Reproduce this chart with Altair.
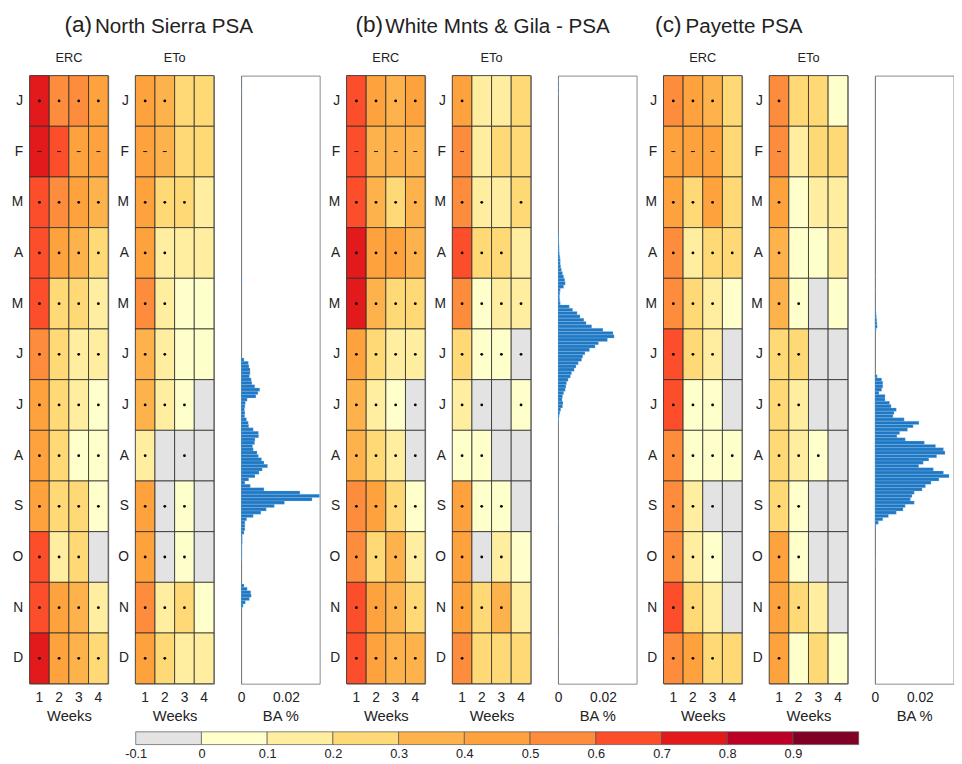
import altair as alt
import pandas as pd

FONT = "Liberation Sans"

months = ["Jan", "Feb", "Mar", "Apr", "May", "Jun", "Jul", "Aug", "Sep", "Oct", "Nov", "Dec"]
weeks = [1, 2, 3, 4]

# correlation values (rows: months, cols: weeks 1-4)
erc_a = [[0.75, 0.55, 0.55, 0.45], [0.76, 0.64, 0.44, 0.45], [0.65, 0.55, 0.45, 0.38],
         [0.65, 0.45, 0.38, 0.28], [0.66, 0.26, 0.25, 0.18], [0.56, 0.24, 0.18, 0.15],
         [0.45, 0.24, 0.16, 0.08], [0.46, 0.26, 0.07, 0.06], [0.45, 0.25, 0.24, 0.07],
         [0.64, 0.16, 0.24, -0.03], [0.65, 0.42, 0.36, 0.17], [0.74, 0.45, 0.38, 0.26]]
sig_erc_a = ["1111", "1111", "1111", "1111", "1111", "1111", "1111", "1111", "1111", "1110", "1111", "1111"]

eto_a = [[0.44, 0.36, 0.25, 0.25], [0.43, 0.35, 0.26, 0.25], [0.42, 0.26, 0.24, 0.16],
         [0.42, 0.16, 0.15, 0.14], [0.55, 0.15, 0.06, 0.05], [0.38, 0.14, 0.06, 0.05],
         [0.37, 0.14, 0.05, -0.02], [0.15, -0.02, -0.03, -0.04], [0.42, -0.03, 0.04, -0.04],
         [0.43, -0.02, 0.05, -0.03], [0.54, 0.15, 0.24, 0.06], [0.43, 0.22, 0.15, 0.14]]
sig_eto_a = ["1100", "1100", "1110", "1100", "1100", "1100", "1110", "1010", "1110", "1110", "1110", "1100"]

erc_b = [[0.65, 0.44, 0.37, 0.43], [0.65, 0.36, 0.37, 0.36], [0.64, 0.37, 0.27, 0.36],
         [0.74, 0.43, 0.41, 0.36], [0.75, 0.37, 0.27, 0.26], [0.43, 0.24, 0.16, 0.15],
         [0.36, 0.16, 0.06, -0.03], [0.36, 0.25, 0.16, -0.03], [0.55, 0.42, 0.26, 0.07],
         [0.54, 0.25, 0.37, 0.15], [0.65, 0.43, 0.37, 0.27], [0.66, 0.44, 0.37, 0.35]]
sig_erc_b = ["1111"] * 12

eto_b = [[0.44, 0.15, 0.16, 0.26], [0.55, 0.15, 0.25, 0.26], [0.54, 0.16, 0.14, 0.25],
         [0.65, 0.26, 0.25, 0.15], [0.55, 0.06, 0.15, 0.14], [0.25, 0.05, 0.06, -0.03],
         [0.15, -0.02, -0.03, 0.05], [0.06, 0.05, -0.03, -0.04], [0.43, 0.06, 0.05, -0.03],
         [0.41, -0.02, 0.15, 0.05], [0.43, 0.26, 0.37, 0.15], [0.54, 0.25, 0.26, 0.25]]
sig_eto_b = ["1000", "1000", "1101", "1110", "1111", "1111", "1101", "1100", "1110", "1110", "1110", "1000"]

erc_c = [[0.55, 0.43, 0.38, 0.26], [0.45, 0.42, 0.46, 0.26], [0.44, 0.27, 0.44, 0.25],
         [0.55, 0.16, 0.25, 0.24], [0.55, 0.25, 0.16, 0.05], [0.65, 0.25, 0.16, -0.03],
         [0.64, 0.06, 0.05, -0.03], [0.55, 0.06, 0.05, 0.06], [0.55, 0.16, -0.03, -0.04],
         [0.55, 0.15, 0.06, -0.03], [0.65, 0.25, 0.16, -0.03], [0.55, 0.43, 0.27, 0.26]]
sig_erc_c = ["1110", "1110", "1110", "1111", "1110", "1110", "1110", "1111", "1110", "1110", "1100", "1110"]

eto_c = [[0.55, 0.25, 0.26, 0.06], [0.55, 0.16, 0.25, 0.26], [0.44, 0.06, 0.15, 0.14],
         [0.37, 0.05, 0.06, 0.12], [0.38, 0.06, -0.03, 0.05], [0.26, 0.25, -0.03, -0.04],
         [0.25, 0.15, -0.03, -0.03], [0.26, 0.16, 0.06, -0.02], [0.25, 0.06, -0.03, -0.04],
         [0.44, 0.06, -0.03, -0.03], [0.43, 0.26, 0.16, -0.03], [0.43, 0.06, 0.25, 0.05]]
sig_eto_c = ["1000", "1000", "1000", "1000", "1100", "1100", "1100", "1110", "1100", "1100", "1100", "1000"]

# burned area % per 2-day bin: (first day of year, values for consecutive 2-day bins)
ba_a = [(8, [0.0003]), (122, [0.0004]),
        (170, [0.0013, 0.0032, 0.0035, 0.004, 0.004, 0.0037, 0.0045, 0.0048, 0.0061, 0.0083,
               0.0075, 0.0066, 0.0027, 0.0019, 0.0017, 0.0015, 0.0017, 0.0016, 0.0024, 0.0032,
               0.0034, 0.0054, 0.0077, 0.0078, 0.0062, 0.006, 0.0051, 0.0054, 0.0071, 0.0077,
               0.0091, 0.0102, 0.0118, 0.0094, 0.008, 0.0062, 0.0034, 0.0017, 0.0041, 0.0102,
               0.0262, 0.035, 0.0316, 0.0193, 0.0148, 0.0112, 0.0088, 0.0054, 0.0025, 0.0017,
               0.0017, 0.0017, 0.0013, 0.0005, 0.0005, 0.0005, 0.0003, 0.0003, 0.0003, 0.0003,
               0.0002]),
        (306, [0.0013, 0.0027, 0.0043, 0.0045, 0.0037, 0.0019, 0.0009, 0.0003])]
ba_b = [(2, [0.0002]), (6, [0.0002]), (10, [0.0002]),
        (96, [0.0003, 0.0003, 0.0004, 0.0005, 0.0005, 0.0006, 0.0008, 0.001, 0.001, 0.0012,
              0.0015, 0.002, 0.0025, 0.003, 0.0032, 0.0025, 0.001, 0.0008, 0.0007, 0.0008,
              0.001, 0.005, 0.0065, 0.0085, 0.0098, 0.0115, 0.0125, 0.015, 0.02, 0.0245,
              0.025, 0.022, 0.018, 0.0165, 0.014, 0.012, 0.011, 0.0105, 0.009, 0.008,
              0.0072, 0.006, 0.0055, 0.0045, 0.0038, 0.0035, 0.0032, 0.0025, 0.002, 0.0018,
              0.0022, 0.002, 0.0012, 0.0008, 0.0005, 0.0002]),
        (268, [0.0003]), (338, [0.0003])]
ba_c = [(88, [0.0003]), (120, [0.0002]), (128, [0.0002]),
        (142, [0.0005, 0.0006, 0.0008, 0.0009, 0.001, 0.0005]),
        (180, [0.001, 0.003, 0.0035, 0.0035, 0.003, 0.0018, 0.0045, 0.0045, 0.0065, 0.0072,
               0.0095, 0.0085, 0.008, 0.013, 0.0196, 0.017, 0.0145, 0.011, 0.0098, 0.0135,
               0.022, 0.027, 0.0305, 0.0312, 0.0275, 0.024, 0.0215, 0.0195, 0.026, 0.0305,
               0.033, 0.0285, 0.025, 0.0225, 0.021, 0.0175, 0.0165, 0.0158, 0.0175, 0.0135,
               0.0125, 0.0095, 0.006, 0.0035, 0.0015, 0.0004]),
        (290, [0.0003]), (294, [0.0003])]

# colour bar
bin_edges = [-0.1, 0.0, 0.1, 0.2, 0.3, 0.4, 0.5, 0.6, 0.7, 0.8, 0.9, 1.0]
thresholds = [0.0, 0.1, 0.2, 0.3, 0.4, 0.5, 0.6, 0.7, 0.8, 0.9]
colors = ["#e3e3e3", "#ffffcc", "#ffeda0", "#fed976", "#feb24c", "#fda23d",
          "#fd8d3c", "#fc4e2a", "#e31a1c", "#bd0026", "#800026"]
cbar_ticks = [-0.1, 0.0, 0.1, 0.2, 0.3, 0.4, 0.5, 0.6, 0.7, 0.8, 0.9]

titles = [("(a)", "North Sierra PSA"), ("(b)", "White Mnts & Gila - PSA"), ("(c)", "Payette PSA")]

# layout constants
PW, PH = 80, 619
E = 20              # y-axis extent
GAP = 25.625        # gap between plot areas
S = GAP - E
ROW_W = 9 * PW + 8 * GAP          # width from first plot's left to last plot's right
CB_LEFT, CB_W = 108, 736          # colour bar offset (from first plot) and length
INK = "#222222"

color_scale = alt.Scale(type="threshold", domain=thresholds, range=colors)


def heat(mat, sig, label):
    rows = []
    for mi, m in enumerate(months):
        for wi, w in enumerate(weeks):
            rows.append({"month": m, "week": w, "corr": mat[mi][wi], "sig": int(sig[mi][wi])})
    df = pd.DataFrame(rows)
    base = alt.Chart(df)
    x = alt.X("week:O", title="Weeks",
              axis=alt.Axis(labelAngle=0, ticks=False, tickSize=0, domain=False, labelPadding=7,
                            labelFontSize=14, titleFontSize=15, titlePadding=5,
                            titleFontWeight="normal"))
    y = alt.Y("month:O", sort=months, title=None,
              axis=alt.Axis(labelExpr="substring(datum.label, 0, 1)", ticks=False, tickSize=0,
                            domain=False, labelPadding=7, labelFontSize=14,
                            minExtent=E, maxExtent=E))
    rect = base.mark_rect(stroke="#2b2b2b", strokeWidth=0.8).encode(
        x=x, y=y, color=alt.Color("corr:Q", scale=color_scale, legend=None))
    dots = base.transform_filter("datum.sig == 1 && datum.month != 'Feb'").mark_point(
        shape="circle", size=8, filled=True, color="black", opacity=1).encode(
        x=alt.X("week:O"), y=alt.Y("month:O", sort=months))
    dashes = base.transform_filter("datum.sig == 1 && datum.month == 'Feb'").mark_point(
        shape="M-1,-0.22L1,-0.22L1,0.22L-1,0.22Z", size=16, filled=True, color="black",
        opacity=1).encode(x=alt.X("week:O"), y=alt.Y("month:O", sort=months))
    return alt.layer(rect, dots, dashes).properties(
        width=PW, height=PH,
        title=alt.TitleParams(label, fontSize=13, fontWeight="normal", offset=10))


def ba(segments):
    rows = []
    for d0, vals in segments:
        for i, v in enumerate(vals):
            rows.append({"d0": d0 + 2 * i, "d1": d0 + 2 * i + 2, "pct": v, "zero": 0.0})
    df = pd.DataFrame(rows)
    return alt.Chart(df).mark_rect(fill="#1f78c4", stroke="#9cc6ec", strokeWidth=0.3,
                                   clip=True).encode(
        x=alt.X("zero:Q", scale=alt.Scale(domain=[0, 0.035], nice=False),
                axis=alt.Axis(values=[0, 0.02], format=".2~f", title="BA %", ticks=False,
                              tickSize=0, domain=False, labelPadding=7, labelFontSize=14,
                              labelFlush=False, titleFontSize=15, titlePadding=5,
                              titleFontWeight="normal")),
        x2="pct:Q",
        y=alt.Y("d0:Q", scale=alt.Scale(domain=[0, 366], reverse=True, nice=False),
                axis=alt.Axis(labels=False, ticks=False, tickSize=0, domain=True,
                              domainColor="#7a7a7a", title=None, minExtent=E, maxExtent=E)),
        y2="d1:Q",
    ).properties(width=PW, height=PH)


def group(idx, erc, sig1, eto, sig2, segs, dx_tag, dx_name):
    tag, name = titles[idx]
    inner = alt.hconcat(heat(erc, sig1, "ERC"), heat(eto, sig2, "ETo"), ba(segs), spacing=S,
                        title=alt.TitleParams(name, anchor="start", dx=dx_name, fontSize=21,
                                              fontWeight="normal", offset=15))
    return alt.hconcat(inner, title=alt.TitleParams(tag, anchor="start", dx=dx_tag, dy=21,
                                                    fontSize=23, fontWeight="normal", offset=0))


row = alt.hconcat(
    group(0, erc_a, sig_erc_a, eto_a, sig_eto_a, ba_a, 56, 87),
    group(1, erc_b, sig_erc_b, eto_b, sig_eto_b, ba_b, 29.5, 60),
    group(2, erc_c, sig_erc_c, eto_c, sig_eto_c, ba_c, 12, 43),
    spacing=S)

# colour bar: its scale spans the row of panels so it lines up under them
cb_df = pd.DataFrame({"lo": bin_edges[:-1], "hi": bin_edges[1:]})
cb_df["mid"] = (cb_df["lo"] + cb_df["hi"]) / 2
px_per_unit = CB_W / (bin_edges[-1] - bin_edges[0])
cb_dom = [bin_edges[0] - CB_LEFT / px_per_unit,
          bin_edges[-1] + (ROW_W - CB_LEFT - CB_W) / px_per_unit]
colorbar = alt.Chart(cb_df).mark_rect(stroke="#555555", strokeWidth=0.7).encode(
    x=alt.X("lo:Q", scale=alt.Scale(domain=cb_dom, nice=False, zero=False),
            axis=alt.Axis(values=cbar_ticks,
                          labelExpr="replace(format(datum.value, '.1~f'), '\u2212', '-')",
                          ticks=False, tickSize=0, domain=False, labelPadding=3,
                          labelFontSize=13, labelFlush=False, title=None)),
    x2="hi:Q",
    color=alt.Color("mid:Q", scale=color_scale, legend=None),
).properties(width=ROW_W, height=13, view=alt.ViewBackground(strokeOpacity=0))

chart = alt.vconcat(row, colorbar, spacing=6).properties(
    padding={"left": 1, "top": 0, "right": 0, "bottom": 0}
).configure_view(stroke="#8a8a8a", strokeWidth=1).configure_axis(
    grid=False, labelFont=FONT, titleFont=FONT, labelColor=INK, titleColor=INK
).configure_title(font=FONT, color=INK).configure_concat(spacing=S)

chart.save("out.html", embed_options={"renderer": "svg", "actions": False})
